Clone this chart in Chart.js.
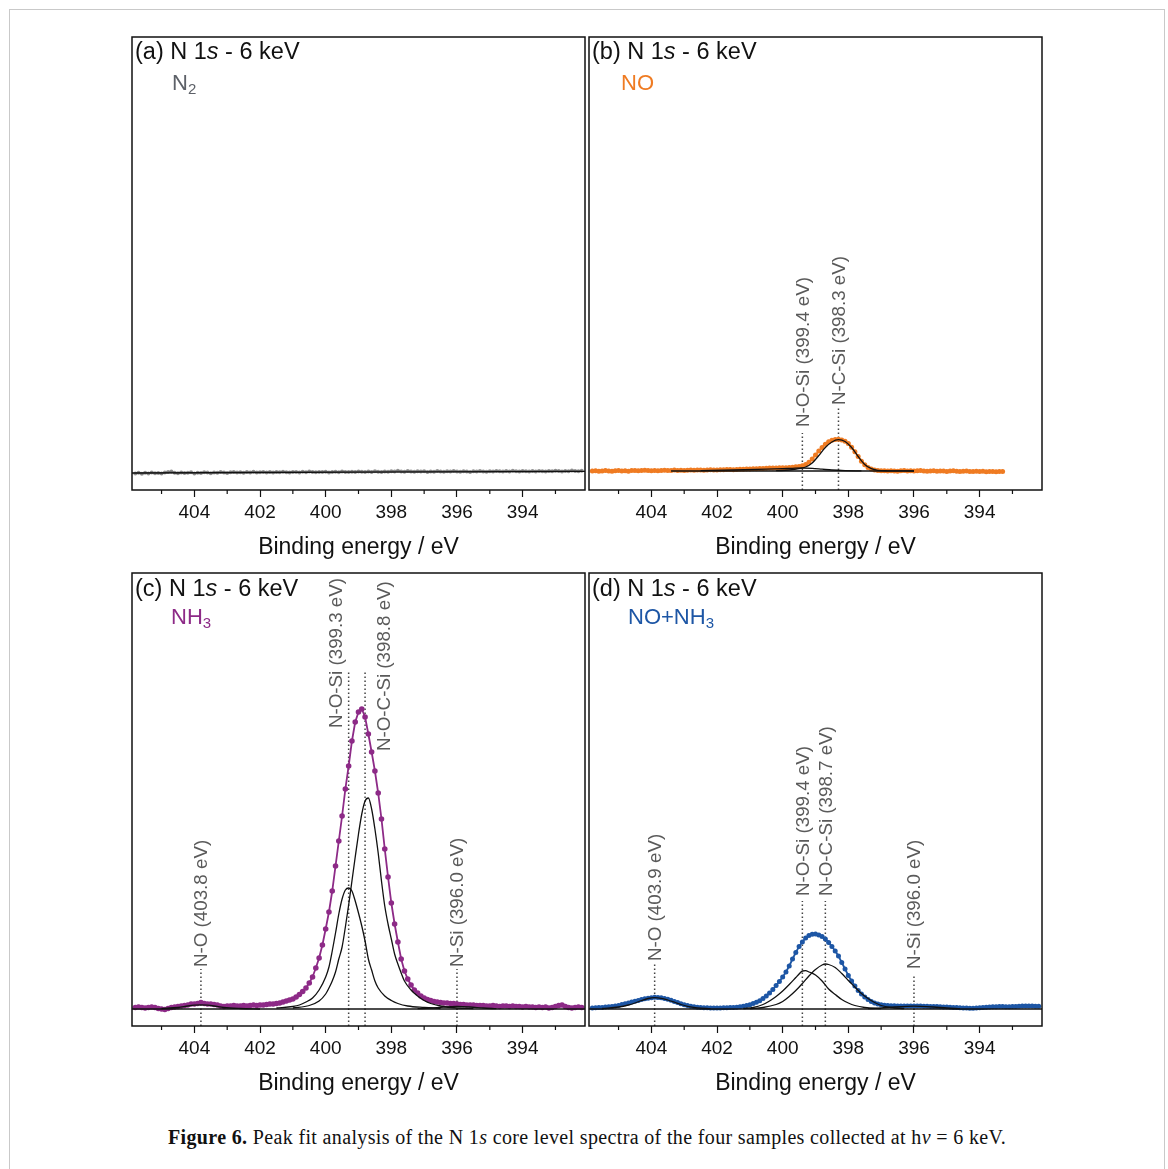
<!DOCTYPE html>
<html>
<head>
<meta charset="utf-8">
<script src="https://cdn.jsdelivr.net/npm/chart.js@4.4.1/dist/chart.umd.min.js"></script>
<style>
  html, body { margin: 0; padding: 0; background: #fff; }
  body { width: 1168px; height: 1169px; position: relative; overflow: hidden; font-family: "Liberation Sans", Arial, sans-serif; }
  .frame { position: absolute; left: 9px; top: 9px; width: 1156px; height: 1190px; border: 1px solid #c9c9c9; box-sizing: border-box; }
  canvas { position: absolute; }
  .tag { position: absolute; font-size: 23.5px; line-height: 23px; color: #111; white-space: nowrap; }
  .sample { position: absolute; font-size: 22px; line-height: 22px; white-space: nowrap; }
  .sample sub { font-size: 15px; vertical-align: -4px; line-height: 0; }
  .caption { position: absolute; left: 3px; width: 1168px; top: 1127px; text-align: center; font-family: "Liberation Serif", "Times New Roman", serif; font-size: 20px; letter-spacing: 0.35px; line-height: 20px; color: #111; white-space: nowrap; }
</style>
</head>
<body>
<div class="frame"></div>

<canvas id="panelA" width="457" height="533" style="left:130px;top:35px"></canvas>
<canvas id="panelB" width="457" height="533" style="left:587px;top:35px"></canvas>
<canvas id="panelC" width="457" height="533" style="left:130px;top:571px"></canvas>
<canvas id="panelD" width="457" height="533" style="left:587px;top:571px"></canvas>

<div class="tag" style="left:135px;top:40px">(a) N 1<i>s</i> - 6 keV</div>
<div class="sample" style="left:172px;top:72px;color:#5d6168">N<sub>2</sub></div>
<div class="tag" style="left:592px;top:40px">(b) N 1<i>s</i> - 6 keV</div>
<div class="sample" style="left:621px;top:72px;color:#ef7b22">NO</div>
<div class="tag" style="left:135px;top:577px">(c) N 1<i>s</i> - 6 keV</div>
<div class="sample" style="left:171px;top:606px;color:#8d2a87">NH<sub>3</sub></div>
<div class="tag" style="left:592px;top:577px">(d) N 1<i>s</i> - 6 keV</div>
<div class="sample" style="left:628px;top:606px;color:#1d56a5">NO+NH<sub>3</sub></div>

<div class="caption"><b>Figure 6.</b> Peak fit analysis of the N 1<i>s</i> core level spectra of the four samples collected at h<i>ν</i> = 6 keV.</div>

<script>
// binding energy grid of the measured spectra (eV), 0.1 eV steps
const ENERGY = [
  405.8, 405.7, 405.6, 405.5, 405.4, 405.3, 405.2, 405.1, 405.0,
  404.9, 404.8, 404.7, 404.6, 404.5, 404.4, 404.3, 404.2, 404.1, 404.0,
  403.9, 403.8, 403.7, 403.6, 403.5, 403.4, 403.3, 403.2, 403.1, 403.0,
  402.9, 402.8, 402.7, 402.6, 402.5, 402.4, 402.3, 402.2, 402.1, 402.0,
  401.9, 401.8, 401.7, 401.6, 401.5, 401.4, 401.3, 401.2, 401.1, 401.0,
  400.9, 400.8, 400.7, 400.6, 400.5, 400.4, 400.3, 400.2, 400.1, 400.0,
  399.9, 399.8, 399.7, 399.6, 399.5, 399.4, 399.3, 399.2, 399.1, 399.0,
  398.9, 398.8, 398.7, 398.6, 398.5, 398.4, 398.3, 398.2, 398.1, 398.0,
  397.9, 397.8, 397.7, 397.6, 397.5, 397.4, 397.3, 397.2, 397.1, 397.0,
  396.9, 396.8, 396.7, 396.6, 396.5, 396.4, 396.3, 396.2, 396.1, 396.0,
  395.9, 395.8, 395.7, 395.6, 395.5, 395.4, 395.3, 395.2, 395.1, 395.0,
  394.9, 394.8, 394.7, 394.6, 394.5, 394.4, 394.3, 394.2, 394.1, 394.0,
  393.9, 393.8, 393.7, 393.6, 393.5, 393.4, 393.3, 393.2, 393.1, 393.0,
  392.9, 392.8, 392.7, 392.6, 392.5, 392.4, 392.3, 392.2
];
const MAJOR_STEP = 2;
const MINOR_TICKS = [405, 403, 401, 399, 397, 395, 393];

// (a) N2 - measured intensity (arb. units)
const N2_DATA = [
  -0.5, 0.3, -0.8, 0.2, -0.4, 0.6, -0.2, 0.1, -0.6,
  0.4, 0.9, 1.4, 0.3, -0.3, 0.5, -0.1, 0.2, 0.7, -0.4,
  0.3, 0.1, 0.8, 0.4, -0.2, 0.6, 0.2, 0.9, 0.5, 0.1,
  0.7, 1.0, 0.4, 0.8, 0.3, 0.9, 0.6, 1.2, 0.5, 0.8,
  1.1, 0.6, 0.9, 0.4, 1.0, 0.7, 1.3, 0.8, 0.5, 1.1,
  0.9, 0.6, 1.2, 0.8, 1.4, 1.0, 0.7, 1.1, 0.9, 1.3,
  0.6, 1.0, 1.2, 0.8, 1.5, 1.1, 0.9, 1.3, 1.0, 1.6,
  1.2, 0.9, 1.4, 1.1, 1.7, 1.3, 1.0, 1.5, 1.2, 1.8,
  1.4, 2.2, 1.6, 1.3, 1.9, 1.5, 1.2, 1.7, 1.4, 1.8,
  1.1, 1.6, 1.3, 1.9, 1.5, 1.2, 1.7, 1.4, 2.0, 1.6,
  1.3, 1.8, 1.5, 1.1, 1.7, 1.4, 1.9, 1.6, 1.2, 1.8,
  1.5, 2.1, 1.7, 1.4, 1.9, 1.6, 2.2, 1.8, 1.5, 2.0,
  1.7, 1.4, 1.9, 1.6, 2.1, 1.8, 1.5, 2.0, 1.7, 2.3,
  1.9, 1.6, 2.1, 1.8, 2.4, 2.0, 1.7, 2.2
];
const N2_FIT_E = [405.9, 392.1];
const N2_FIT_I = [0, 1.6];

// (b) NO
const NO_DATA = [
  0, 0.3, -0.2, 0, 0.4, 0, -0.3, 0.2, 0.5,
  0, 0.3, -0.2, 0.4, 0.6, 0.2, 0.5, 0.8, 0.4, 0.3,
  0.6, 0.2, 0.5, 0.7, 0.4, 0.6, 0.9, 0.5, 0.7, 0.6,
  0.8, 1, 0.7, 0.9, 1.1, 0.8, 1, 1.2, 1, 1.1,
  1.3, 1.2, 1.4, 1.5, 1.3, 1.6, 1.8, 1.7, 2, 2.1,
  2.3, 2.2, 2.5, 2.6, 2.8, 2.9, 3, 3.1, 3.2, 3.3,
  3.3, 3.5, 3.8, 4.2, 4.6, 5.2, 6.6, 8.8, 12, 16,
  20, 23.5, 26.8, 29.2, 30.8, 31.6, 31.8, 31, 29.7, 27.6,
  23.8, 19.3, 14.5, 9.8, 6.2, 3.6, 2, 1.1, 0.5, 0.3,
  0.2, 0, 0.3, 0.1, -0.2, 0.2, 0.4, 0, 0.3, -0.1,
  0.2, 0.4, 0, -0.3, 0, 0.2, -0.2, 0.1, -0.1, -0.4,
  0, 0.2, -0.2, -0.5, -0.2, 0, -0.4, -0.6, -0.2, -0.5,
  -0.3, -0.7, -0.4, -0.6, -0.8, -0.5, -0.6
];
const NO_NOSI_E = [402.5, 401.5, 400.5, 400.0, 399.7, 399.4, 399.1, 398.8, 398.5, 398.1, 397.6];
const NO_NOSI_I = [0.3, 1, 1.8, 2.3, 2.7, 3, 2.6, 1.8, 1, 0.4, 0.1];
const NO_NCSI_E = [400.2, 399.8, 399.5, 399.3, 399.1, 398.9, 398.7, 398.5, 398.3, 398.1, 397.9, 397.7, 397.5, 397.3, 397.1, 396.8, 396.0];
const NO_NCSI_I = [0.3, 1, 2.3, 4, 8, 15.5, 23.5, 29, 31.3, 29.5, 23.5, 14.5, 6.5, 2.3, 0.7, 0.2, 0];
const NO_BASE_E = [403.4, 396.0];
const NO_BASE_I = [0, 0];

// (c) NH3
const NH3_DATA = [
  1.5, 2, 1.5, 1, 1.5, 2, 1.5, 0.5, 0,
  -0.5, 0.5, 1.5, 2, 2.5, 3, 3.5, 4, 5, 5,
  5.5, 6.5, 5.5, 5, 5, 4.5, 4, 3, 2.5, 3,
  3, 3.5, 3, 3, 3.5, 3, 3.5, 4, 3.5, 4,
  4, 4.5, 5, 5, 5.5, 6, 7, 8, 9, 10,
  12, 14.5, 17.5, 21, 26, 32, 41, 51, 64, 80,
  97, 118, 143, 168, 193, 220, 243, 268, 287, 297,
  300, 292, 275, 257, 238, 216, 190, 160, 132, 106,
  85, 67, 50, 38, 30, 24, 19, 16, 13, 11,
  9.5, 8.5, 7.5, 7, 6.5, 6, 6, 5.5, 5.5, 5,
  4.5, 4.5, 4, 4, 4, 3.5, 3.5, 3.5, 3, 3,
  3.5, 3, 2.5, 3, 3, 2.5, 3, 2.5, 2.5, 2,
  2.5, 2, 2, 1.5, 2, 1.5, 2, 1, 1.5, 2.5,
  3.5, 4, 2.5, 1.5, 1, 1.5, 2, 1.5
];
const NH3_NO_E = [405.0, 404.5, 404.2, 404.0, 403.8, 403.6, 403.4, 403.1, 402.6, 402.0];
const NH3_NO_I = [0.5, 1.5, 3, 3.8, 4.2, 3.8, 3, 1.5, 0.5, 0];
const NH3_NOSI_E = [401.5, 401.0, 400.8, 400.6, 400.4, 400.2, 400.0, 399.9, 399.8, 399.7, 399.6, 399.5, 399.4, 399.3, 399.2, 399.1, 399.0, 398.9, 398.8, 398.7, 398.6, 398.5, 398.4, 398.2, 398.0, 397.8, 397.5, 397.0, 396.5];
const NH3_NOSI_I = [1, 2.5, 4, 7, 11, 19, 32, 42, 58, 76, 95, 110, 119, 121, 118, 108, 96, 83, 68, 50, 39, 28, 21, 13, 8.5, 5.5, 3, 1.5, 0.5];
const NH3_NOCSI_E = [401.0, 400.5, 400.2, 400.0, 399.9, 399.8, 399.7, 399.6, 399.5, 399.4, 399.3, 399.2, 399.1, 399.0, 398.9, 398.8, 398.7, 398.6, 398.5, 398.4, 398.3, 398.2, 398.1, 398.0, 397.9, 397.8, 397.7, 397.6, 397.4, 397.2, 397.0, 396.8, 396.5, 396.0, 395.5];
const NH3_NOCSI_I = [1, 3.5, 8, 15, 21, 28, 37, 50, 62, 82, 104, 128, 152, 175, 195, 208, 211, 200, 180, 156, 128, 103, 85, 70, 55, 45, 36, 28, 19, 13, 8.5, 5.5, 3, 1, 0.5];
const NH3_NSI_E = [397.2, 396.8, 396.4, 396.0, 395.6, 395.2, 394.8];
const NH3_NSI_I = [0.3, 1, 2, 2.5, 2, 1, 0.3];
const NH3_BASE_E = [405.9, 392.1];
const NH3_BASE_I = [0, 0];

// (d) NO+NH3
const MIX_DATA = [
  1, 1.2, 1.5, 1.5, 2, 2.2, 2.5, 3, 3.5,
  4.5, 5.3, 6, 7, 7.8, 8.6, 9.5, 10.2, 10.8, 11.3,
  11.7, 11.6, 11.2, 10.6, 9.8, 8.8, 7.6, 6.4, 5.2, 4.2,
  3.4, 2.7, 2.2, 1.8, 1.5, 1.3, 1.2, 1.1, 1.1, 1,
  1.1, 1.2, 1.3, 1.4, 1.6, 1.8, 2.2, 2.7, 3.4, 4.3,
  5.4, 6.8, 8.3, 10.5, 13, 16, 19.5, 23.5, 27.5, 32,
  37, 43, 50, 56.5, 62.5, 67, 71, 73.5, 74.8, 75,
  74, 72.5, 70, 66.5, 62.5, 58, 53, 46.5, 40, 33.5,
  28, 23, 18.5, 15, 12, 9.5, 7.5, 6, 5, 4.3,
  3.8, 3.5, 3.3, 3.2, 3.1, 3, 3, 3, 3.1, 3,
  3, 3, 2.8, 2.7, 2.6, 2.5, 2.4, 2.2, 2.1, 2,
  1.8, 1.6, 1.4, 1.3, 1.1, 1, 0.8, 0.8, 1, 1.2,
  1.5, 1.7, 2, 2.2, 2.3, 2.4, 2.4, 2.3, 2.3, 2.4,
  2.6, 2.8, 3, 3, 3, 2.9, 2.8, 2.8
];
const MIX_NO_E = [405.5, 405.0, 404.7, 404.5, 404.3, 404.1, 403.9, 403.7, 403.5, 403.3, 403.1, 402.9, 402.6, 402.2];
const MIX_NO_I = [0.5, 2, 4, 6, 8.5, 10.5, 11.3, 10.7, 9, 6.8, 4.5, 2.7, 1.2, 0.3];
const MIX_NOSI_E = [401.2, 400.9, 400.6, 400.4, 400.2, 400.0, 399.8, 399.6, 399.5, 399.4, 399.3, 399.2, 399.0, 398.8, 398.6, 398.4, 398.2, 398.0, 397.8, 397.5, 397.0];
const MIX_NOSI_I = [0.5, 1.5, 4.5, 8, 12.5, 18, 24.5, 31.5, 35, 38, 38.3, 37, 34, 28, 20, 14.5, 9.5, 6, 3.5, 1.5, 0.3];
const MIX_NOCSI_E = [401.0, 400.6, 400.2, 400.0, 399.8, 399.6, 399.4, 399.2, 399.0, 398.8, 398.7, 398.6, 398.4, 398.2, 398.0, 397.8, 397.6, 397.4, 397.2, 397.0, 396.7, 396.3];
const MIX_NOCSI_I = [0.3, 1.5, 4.5, 7.5, 12.5, 18.5, 25.5, 33, 39.5, 44, 45, 44.5, 41.5, 35.5, 28.5, 22, 15.5, 10.5, 6.5, 3.5, 1.5, 0.5];
const MIX_NSI_E = [397.4, 397.0, 396.6, 396.2, 396.0, 395.8, 395.4, 395.0, 394.6];
const MIX_NSI_I = [0.3, 1, 2, 2.7, 2.8, 2.7, 2, 1, 0.3];
const MIX_BASE_E = [405.9, 392.1];
const MIX_BASE_I = [0, 0];

const FONT = '"Liberation Sans", Arial, sans-serif';

function points(xs, ys) {
  return ys.map((y, i) => ({ x: xs[i], y: y }));
}

function fitLine(xs, ys) {
  return {
    data: points(xs, ys),
    showLine: true,
    borderColor: '#111',
    borderWidth: 1.3,
    pointRadius: 0,
    cubicInterpolationMode: 'monotone'
  };
}

function measured(ys, color, radius) {
  return {
    data: points(ENERGY, ys),
    showLine: true,
    borderColor: color,
    borderWidth: 1.8,
    backgroundColor: color,
    pointBackgroundColor: color,
    pointBorderWidth: 0,
    pointRadius: radius
  };
}

// frame box + short minor ticks
const framePlugin = {
  id: 'panelFrame',
  afterDraw(chart) {
    const { ctx, chartArea: a, scales } = chart;
    ctx.save();
    ctx.strokeStyle = '#111';
    ctx.lineWidth = 1.5;
    ctx.strokeRect(a.left, a.top, a.right - a.left, a.bottom - a.top);
    ctx.lineWidth = 1.2;
    MINOR_TICKS.forEach(e => {
      const px = scales.x.getPixelForValue(e);
      ctx.beginPath();
      ctx.moveTo(px, a.bottom);
      ctx.lineTo(px, a.bottom + 4);
      ctx.stroke();
    });
    ctx.restore();
  }
};

// dotted markers with rotated peak names
const peakLabelPlugin = {
  id: 'peakLabels',
  beforeDatasetsDraw(chart, args, opts) {
    const { ctx, chartArea: a, scales } = chart;
    (opts.items || []).forEach(item => {
      const px = scales.x.getPixelForValue(item.energy);
      ctx.save();
      ctx.strokeStyle = '#444';
      ctx.lineWidth = 1.5;
      ctx.setLineDash([1.5, 2.5]);
      ctx.beginPath();
      ctx.moveTo(px, a.bottom);
      ctx.lineTo(px, scales.y.getPixelForValue(item.lineTop));
      ctx.stroke();
      ctx.setLineDash([]);
      ctx.translate(px + (item.dx || 1), scales.y.getPixelForValue(item.textAt));
      ctx.rotate(-Math.PI / 2);
      ctx.fillStyle = '#5a5a5a';
      ctx.font = '18.75px ' + FONT;
      ctx.textAlign = 'left';
      ctx.textBaseline = 'middle';
      ctx.fillText(item.text, 0, 0);
      ctx.restore();
    });
  }
};

Chart.register(framePlugin, peakLabelPlugin);

function makePanel(id, yMin, datasets, items) {
  return new Chart(document.getElementById(id), {
    type: 'scatter',
    data: { datasets: datasets },
    options: {
      responsive: false,
      animation: false,
      devicePixelRatio: 1,
      layout: { autoPadding: false, padding: { left: 2, right: 2, top: 2, bottom: 0 } },
      plugins: {
        legend: { display: false },
        tooltip: { enabled: false },
        peakLabels: { items: items }
      },
      scales: {
        x: {
          type: 'linear',
          reverse: true,
          min: 392.1,
          max: 405.9,
          afterFit: s => { s.height = 78; },
          border: { display: false },
          grid: { drawOnChartArea: false, tickLength: 7, tickWidth: 1.2, tickColor: '#111' },
          ticks: {
            stepSize: MAJOR_STEP,
            includeBounds: false,
            padding: 4,
            color: '#111',
            maxRotation: 0,
            autoSkip: false,
            font: { family: FONT, size: 19 }
          },
          title: {
            display: true,
            text: 'Binding energy / eV',
            color: '#111',
            font: { family: FONT, size: 23 },
            padding: { top: 0, bottom: 7 }
          }
        },
        y: { display: false, min: yMin, max: yMin + 453 }
      }
    }
  });
}

makePanel('panelA', -17, [
  fitLine(N2_FIT_E, N2_FIT_I),
  measured(N2_DATA, 'rgba(110,110,110,0.75)', 2)
], []);

makePanel('panelB', -19, [
  fitLine(NO_BASE_E, NO_BASE_I),
  fitLine(NO_NOSI_E, NO_NOSI_I),
  fitLine(NO_NCSI_E, NO_NCSI_I),
  measured(NO_DATA, '#ef7b22', 2.5)
], [
  { energy: 399.4, lineTop: 38, textAt: 44, text: 'N-O-Si (399.4 eV)' },
  { energy: 398.3, lineTop: 64, textAt: 66, text: 'N-C-Si (398.3 eV)' }
]);

makePanel('panelC', -17, [
  fitLine(NH3_BASE_E, NH3_BASE_I),
  fitLine(NH3_NO_E, NH3_NO_I),
  fitLine(NH3_NOSI_E, NH3_NOSI_I),
  fitLine(NH3_NOCSI_E, NH3_NOCSI_I),
  fitLine(NH3_NSI_E, NH3_NSI_I),
  measured(NH3_DATA, '#8d2a87', 2.8)
], [
  { energy: 403.8, lineTop: 40, textAt: 42, text: 'N-O (403.8 eV)' },
  { energy: 399.3, lineTop: 339, textAt: 281, dx: -12, text: 'N-O-Si (399.3 eV)' },
  { energy: 398.8, lineTop: 339, textAt: 258, dx: 20, text: 'N-O-C-Si (398.8 eV)' },
  { energy: 396.0, lineTop: 40, textAt: 42, text: 'N-Si (396.0 eV)' }
]);

makePanel('panelD', -17, [
  fitLine(MIX_BASE_E, MIX_BASE_I),
  fitLine(MIX_NO_E, MIX_NO_I),
  fitLine(MIX_NOSI_E, MIX_NOSI_I),
  fitLine(MIX_NOCSI_E, MIX_NOCSI_I),
  fitLine(MIX_NSI_E, MIX_NSI_I),
  measured(MIX_DATA, '#1d56a5', 2.5)
], [
  { energy: 403.9, lineTop: 47, textAt: 48, text: 'N-O (403.9 eV)' },
  { energy: 399.4, lineTop: 108, textAt: 113, text: 'N-O-Si (399.4 eV)' },
  { energy: 398.7, lineTop: 108, textAt: 113, text: 'N-O-C-Si (398.7 eV)' },
  { energy: 396.0, lineTop: 35, textAt: 40, text: 'N-Si (396.0 eV)' }
]);
</script>
</body>
</html>
